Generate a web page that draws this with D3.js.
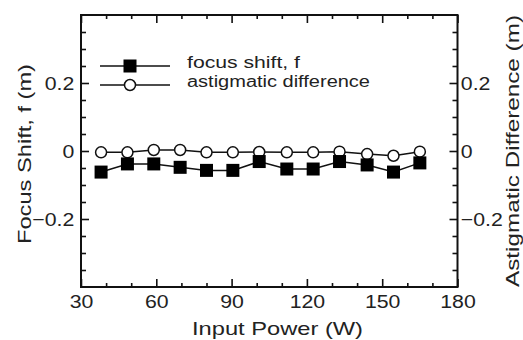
<!DOCTYPE html>
<html><head><meta charset="utf-8">
<script src="https://cdn.jsdelivr.net/npm/d3@7"></script>
<style>body{margin:0;background:#fff}svg{display:block}text{font-family:"Liberation Sans",Arial,sans-serif;fill:#222}</style>
</head><body><svg id="c" width="523" height="340"></svg>
<script>
const power = [38, 48.5, 59, 69.5, 80, 90.5, 101, 112, 122.5, 133, 144, 154.5, 165];
const focusShift = [-0.062, -0.038, -0.038, -0.048, -0.057, -0.057, -0.031, -0.053, -0.053, -0.031, -0.041, -0.062, -0.035];
const astigDiff = [-0.004, -0.004, 0.003, 0.003, -0.004, -0.004, -0.003, -0.004, -0.004, -0.002, -0.009, -0.014, -0.002];
const xTicks = [30, 60, 90, 120, 150, 180];
const yTicks = [-0.2, 0, 0.2];
const legendLabels = ["focus shift, f", "astigmatic difference"];
const xTitle = "Input Power (W)";
const yTitle = "Focus Shift, f (m)";
const y2Title = "Astigmatic Difference (m)";

const svg = d3.select("#c");
const L = 81, R = 457.5, T = 15, B = 287;
const x = d3.scaleLinear().domain([30, 180]).range([L, R]);
const y = d3.scaleLinear().domain([-0.4, 0.4]).range([B, T]);
const fmt = d => d === 0 ? "0" : d3.format(".1f")(d);

const xMinor = d3.range(40, 180, 10).filter(v => v % 30 !== 0);
const yMinor = d3.range(-0.35, 0.4, 0.05).map(v => +v.toFixed(2)).filter(v => !yTicks.includes(v));

function styleAxis(g){ g.select(".domain").remove(); g.selectAll("line").attr("stroke","#111").attr("stroke-width",1.6); }
function styleText(g, sx){ g.selectAll("text").attr("font-size",19).attr("fill","#222").attr("transform",`scale(${sx},1)`); }

// bottom
svg.append("g").attr("transform",`translate(0,${B})`)
  .call(d3.axisBottom(x).tickValues(xTicks).tickSize(-8).tickPadding(8).tickFormat(d3.format("d")))
  .call(styleAxis).call(g=>styleText(g,1.12));
svg.append("g").attr("transform",`translate(0,${B})`)
  .call(d3.axisBottom(x).tickValues(xMinor).tickSize(-4).tickFormat("")).call(styleAxis);
// top
svg.append("g").attr("transform",`translate(0,${T})`)
  .call(d3.axisTop(x).tickValues(xTicks).tickSize(-8).tickFormat("")).call(styleAxis);
svg.append("g").attr("transform",`translate(0,${T})`)
  .call(d3.axisTop(x).tickValues(xMinor).tickSize(-4).tickFormat("")).call(styleAxis);
// left
svg.append("g").attr("transform",`translate(${L},0)`)
  .call(d3.axisLeft(y).tickValues(yTicks).tickSize(-8).tickPadding(6).tickFormat(fmt))
  .call(styleAxis).call(g=>styleText(g,1.12));
svg.append("g").attr("transform",`translate(${L},0)`)
  .call(d3.axisLeft(y).tickValues(yMinor).tickSize(-5).tickFormat("")).call(styleAxis);
// right
svg.append("g").attr("transform",`translate(${R},0)`)
  .call(d3.axisRight(y).tickValues(yTicks).tickSize(-8).tickPadding(3).tickFormat(fmt))
  .call(styleAxis).call(g=>styleText(g,1.12));
svg.append("g").attr("transform",`translate(${R},0)`)
  .call(d3.axisRight(y).tickValues(yMinor).tickSize(-5).tickFormat("")).call(styleAxis);

// frame
svg.append("rect").attr("x",L).attr("y",T).attr("width",R-L).attr("height",B-T)
  .attr("fill","none").attr("stroke","#111").attr("stroke-width",2);

// series
const line = d3.line().x(d=>x(d[0])).y(d=>y(d[1]));
const fsData = power.map((p,i)=>[p, focusShift[i]]);
const adData = power.map((p,i)=>[p, astigDiff[i]]);
svg.append("path").datum(fsData).attr("d",line).attr("fill","none").attr("stroke","#111").attr("stroke-width",1.5);
svg.append("path").datum(adData).attr("d",line).attr("fill","none").attr("stroke","#111").attr("stroke-width",1.5);
const S = 13;
svg.selectAll(".ad").data(adData).join("circle").attr("cx",d=>x(d[0])).attr("cy",d=>y(d[1])).attr("r",5.5)
  .attr("fill","#fff").attr("stroke","#111").attr("stroke-width",1.5);
svg.selectAll(".fs").data(fsData).join("rect").attr("x",d=>x(d[0])-S/2).attr("y",d=>y(d[1])-S/2)
  .attr("width",S).attr("height",S).attr("fill","#000");

// legend
const lg = svg.append("g");
const ly = [66, 85];
lg.append("line").attr("x1",100).attr("x2",170).attr("y1",ly[0]).attr("y2",ly[0]).attr("stroke","#111").attr("stroke-width",1.5);
lg.append("rect").attr("x",130-S/2).attr("y",ly[0]-S/2).attr("width",S).attr("height",S).attr("fill","#000");
lg.append("line").attr("x1",100).attr("x2",170).attr("y1",ly[1]).attr("y2",ly[1]).attr("stroke","#111").attr("stroke-width",1.5);
lg.append("circle").attr("cx",130).attr("cy",ly[1]).attr("r",5.5).attr("fill","#fff").attr("stroke","#111").attr("stroke-width",1.5);
lg.append("text").attr("x",187).attr("y",ly[0]+2).attr("font-size",16).attr("textLength",113).attr("lengthAdjust","spacingAndGlyphs").text(legendLabels[0]);
lg.append("text").attr("x",187).attr("y",ly[1]+2).attr("font-size",16).attr("textLength",183).attr("lengthAdjust","spacingAndGlyphs").text(legendLabels[1]);

// titles
svg.append("text").attr("x",192).attr("y",335).attr("font-size",19).attr("textLength",171).attr("lengthAdjust","spacingAndGlyphs").text(xTitle);
svg.append("text").attr("transform","translate(31,244) rotate(-90)").attr("font-size",19).attr("textLength",180).attr("lengthAdjust","spacingAndGlyphs").text(yTitle);
svg.append("text").attr("transform","translate(519,287) rotate(-90)").attr("font-size",19).attr("textLength",272).attr("lengthAdjust","spacingAndGlyphs").text(y2Title);
</script></body></html>
